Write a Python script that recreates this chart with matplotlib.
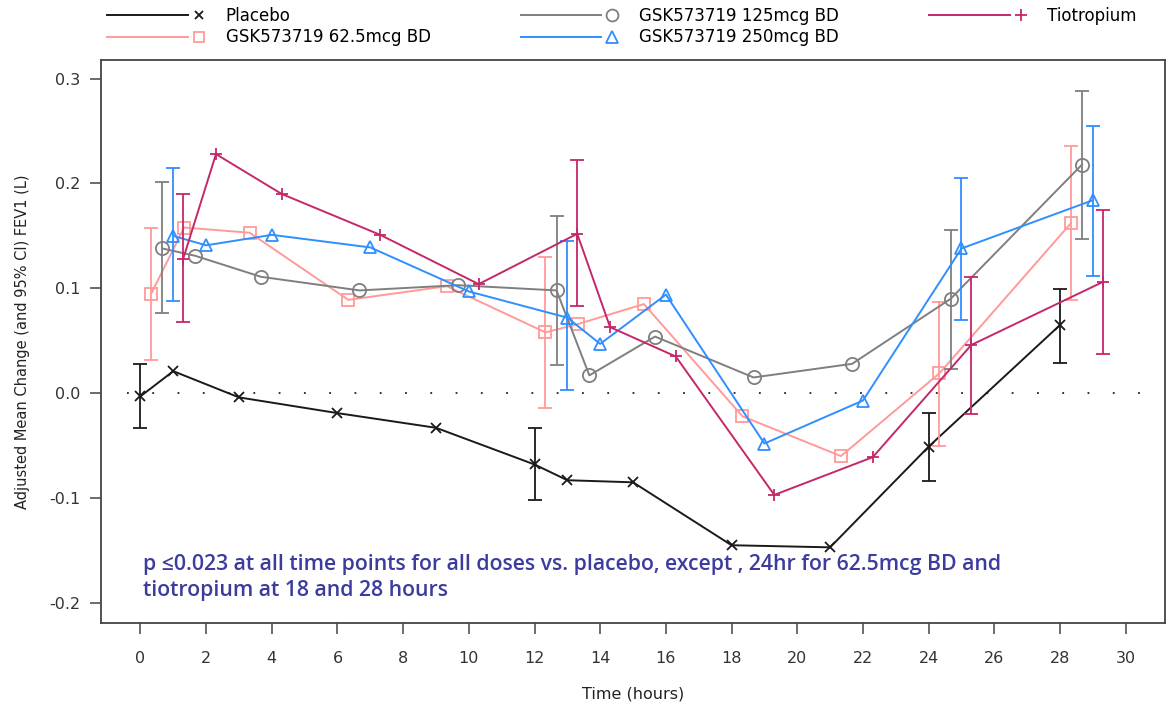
import numpy as np
import matplotlib
matplotlib.use('Agg')
import matplotlib.pyplot as plt
from matplotlib.lines import Line2D
from matplotlib.legend_handler import HandlerBase
from matplotlib.ticker import FormatStrFormatter

# nominal assessment times (hours); CI bars only drawn at some of them
hours = [0, 1, 3, 6, 9, 12, 13, 15, 18, 21, 24, 28]
ci_hours = [0, 12, 24, 28]

labels = ['Placebo', 'GSK573719 62.5mcg BD', 'GSK573719 125mcg BD',
          'GSK573719 250mcg BD', 'Tiotropium']

# adjusted mean change in FEV1 (L)
placebo = [-0.003, 0.021, -0.004, -0.019, -0.033, -0.068, -0.083, -0.085, -0.145, -0.147, -0.051, 0.065]
gsk_62 = [0.095, 0.158, 0.153, 0.089, 0.102, 0.058, 0.066, 0.085, -0.022, -0.060, 0.019, 0.162]
gsk_125 = [0.138, 0.131, 0.111, 0.098, 0.103, 0.098, 0.017, 0.054, 0.015, 0.028, 0.090, 0.218]
gsk_250 = [0.150, 0.141, 0.151, 0.139, 0.097, 0.072, 0.047, 0.094, -0.048, -0.007, 0.138, 0.184]
tiotropium = [0.128, 0.228, 0.190, 0.151, 0.104, 0.152, 0.063, 0.035, -0.097, -0.061, 0.046, 0.106]

# 95% CI at ci_hours
placebo_lo = [-0.033, -0.102, -0.084, 0.029]
placebo_hi = [0.028, -0.033, -0.019, 0.099]
gsk_62_lo = [0.032, -0.014, -0.050, 0.089]
gsk_62_hi = [0.158, 0.130, 0.087, 0.236]
gsk_125_lo = [0.076, 0.027, 0.023, 0.147]
gsk_125_hi = [0.201, 0.169, 0.156, 0.288]
gsk_250_lo = [0.088, 0.003, 0.070, 0.112]
gsk_250_hi = [0.215, 0.145, 0.205, 0.255]
tio_lo = [0.068, 0.083, -0.020, 0.037]
tio_hi = [0.190, 0.222, 0.111, 0.175]

note = ('p \u22640.023 at all time points for all doses vs. placebo, except , 24hr for 62.5mcg BD and\n'
        'tiotropium at 18 and 28 hours')

plt.rcParams['font.family'] = 'DejaVu Sans'
plt.rcParams['axes.unicode_minus'] = False


class LineThenMarker(HandlerBase):
    """legend key: line segment with the symbol to its right (like R's legend)"""
    def create_artists(self, legend, orig_handle, xdescent, ydescent, width, height, fontsize, trans):
        y = height / 2 - ydescent
        x0 = -xdescent
        line = Line2D([x0, x0 + width * 0.88], [y, y], color=orig_handle.get_color(),
                      lw=orig_handle.get_linewidth())
        mark = Line2D([x0 + width], [y], ls='none', marker=orig_handle.get_marker(),
                      ms=orig_handle.get_markersize() * 0.9, mec=orig_handle.get_markeredgecolor(),
                      mfc='none', mew=orig_handle.get_markeredgewidth())
        line.set_transform(trans)
        mark.set_transform(trans)
        return [line, mark]


series = [placebo, gsk_62, gsk_125, gsk_250, tiotropium]
lows = [placebo_lo, gsk_62_lo, gsk_125_lo, gsk_250_lo, tio_lo]
highs = [placebo_hi, gsk_62_hi, gsk_125_hi, gsk_250_hi, tio_hi]
colors = ['#1a1a1a', '#ff9a9a', '#7f7f7f', '#2f8fff', '#c4286a']
markers = ['x', 's', 'o', '^', '+']
msizes = [7, 8, 9.5, 9, 9]
dodge = [0.0, 0.33, 0.67, 1.0, 1.3]

fig = plt.figure(figsize=(11.68, 7.11), dpi=100)
ax = fig.add_axes([0.0865, 0.124, 0.911, 0.792])

ax.axhline(0, xmin=0.024, xmax=0.988, color='#222222', lw=1.3, ls=(0, (1, 13)))

handles = []
t = np.array(hours, dtype=float)
for vals, lo, hi, c, m, ms, d, lab in zip(series, lows, highs, colors, markers, msizes, dodge, labels):
    ln, = ax.plot(t + d, vals, color=c, marker=m, ms=ms, mfc='none', mec=c, mew=1.3,
                  lw=1.4, label=lab)
    handles.append(ln)
    idx = [hours.index(h) for h in ci_hours]
    mid = np.array(vals)[idx]
    err = [mid - np.array(lo), np.array(hi) - mid]
    ax.errorbar(t[idx] + d, mid, yerr=err, fmt='none', ecolor=c, elinewidth=1.3,
                capsize=5, capthick=1.3)

ax.set_xlim(-1.2, 31.2)
ax.set_ylim(-0.219, 0.318)
ax.set_xticks(np.arange(0, 31, 2))
ax.set_yticks(np.arange(-0.2, 0.31, 0.1))
ax.yaxis.set_major_formatter(FormatStrFormatter('%.1f'))
ax.tick_params(direction='out', length=8, width=1.1, color='#444444',
               labelsize=11.5, labelcolor='#333333')
ax.tick_params(axis='x', pad=12)
ax.tick_params(axis='y', pad=7)
for sp in ax.spines.values():
    sp.set_color('#444444')
    sp.set_linewidth(1.3)

ax.set_xlabel('Time (hours)', fontsize=11.5, color='#222222', labelpad=15)
ax.set_ylabel('Adjusted Mean Change (and 95% CI) FEV1 (L)', fontsize=10.5,
              color='#222222', labelpad=14)

ax.text(0.039, 0.122, note, transform=ax.transAxes, ha='left', va='top',
        fontsize=15.3, fontweight='semibold', color='#3c3c9e',
        family=['Open Sans', 'DejaVu Sans'], linespacing=1.32)

fig.legend(handles, labels, loc='upper left', bbox_to_anchor=(0.092, 0.99),
           ncol=3, frameon=False, fontsize=12, handlelength=5.5, handletextpad=1.6,
           columnspacing=5.4, labelspacing=0.2, borderpad=0, borderaxespad=0,
           handler_map={Line2D: LineThenMarker()})

fig.savefig('out.png', dpi=100)
